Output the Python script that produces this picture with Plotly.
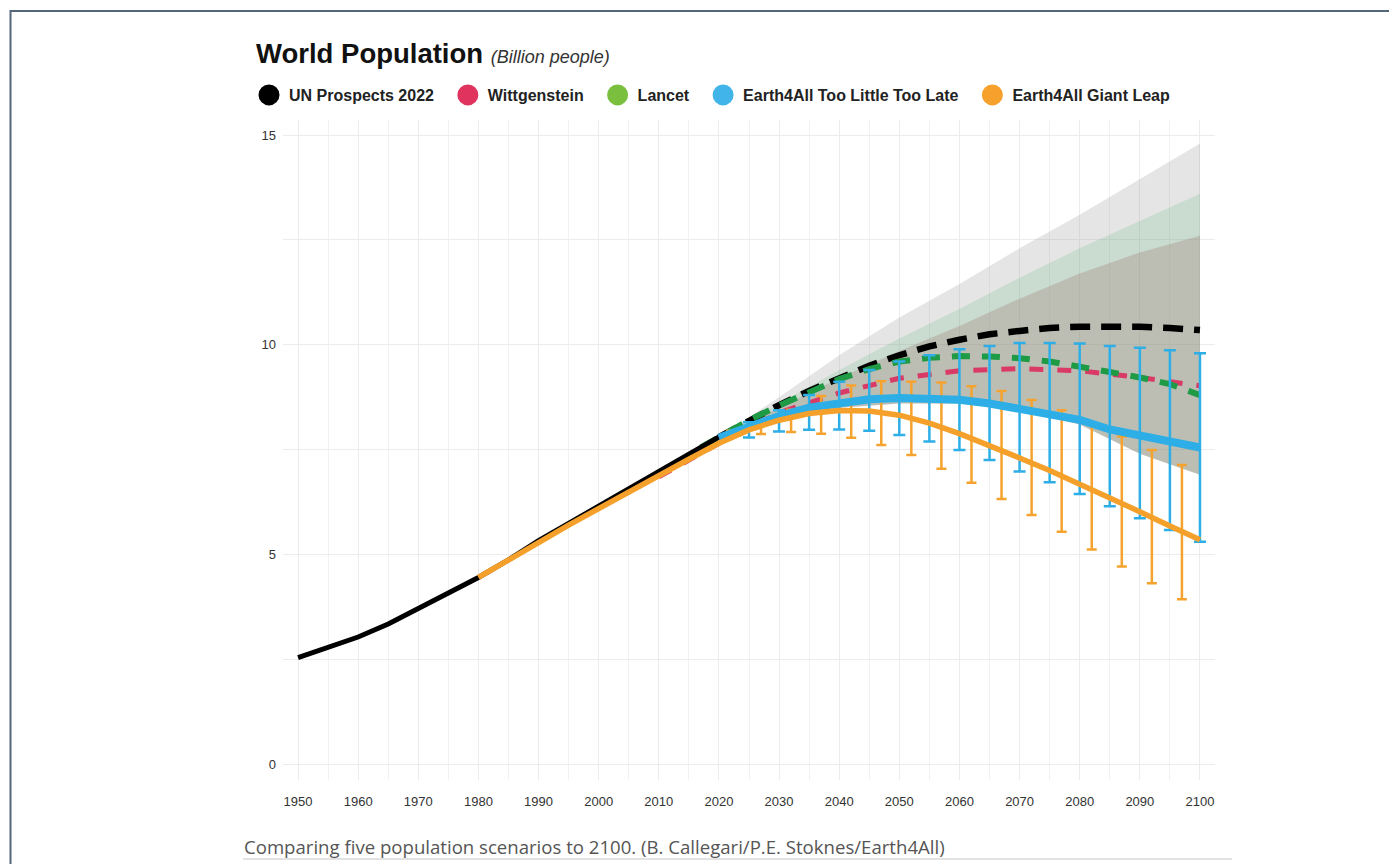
import plotly.graph_objects as go

# ---------------- data (billion people) ----------------
hist_years = [1950, 1955, 1960, 1965, 1970, 1975, 1980, 1985, 1990, 1995, 2000, 2005, 2010, 2015, 2020]
un_hist = [2.54, 2.77, 3.03, 3.34, 3.70, 4.07, 4.45, 4.87, 5.33, 5.74, 6.15, 6.55, 6.96, 7.38, 7.80]

proj_years = [2020, 2025, 2030, 2035, 2040, 2045, 2050, 2055, 2060, 2065, 2070, 2075, 2080, 2085, 2090, 2095, 2100]
un_proj = [7.80, 8.20, 8.56, 8.90, 9.21, 9.50, 9.75, 9.96, 10.12, 10.25, 10.33, 10.40, 10.43, 10.44, 10.43, 10.40, 10.35]

witt_years = [2010, 2020, 2030, 2040, 2050, 2060, 2070, 2080, 2090, 2100]
witt = [6.85, 7.65, 8.38, 8.85, 9.20, 9.38, 9.43, 9.38, 9.22, 9.02]

lancet_years = [2017, 2020, 2025, 2030, 2035, 2040, 2045, 2050, 2055, 2060, 2065, 2070, 2075, 2080, 2085, 2090, 2095, 2100]
lancet = [7.55, 7.80, 8.20, 8.55, 8.87, 9.18, 9.42, 9.60, 9.69, 9.73, 9.72, 9.68, 9.60, 9.46, 9.35, 9.22, 9.06, 8.80]

tltl_years = [2020, 2025, 2030, 2035, 2040, 2045, 2050, 2055, 2060, 2065, 2070, 2075, 2080, 2085, 2090, 2095, 2100]
tltl = [7.78, 8.06, 8.30, 8.50, 8.62, 8.70, 8.73, 8.73, 8.69, 8.60, 8.48, 8.36, 8.21, 7.98, 7.84, 7.70, 7.55]

gl_years = [1980, 1985, 1990, 1995, 2000, 2005, 2010, 2015, 2020, 2025, 2030, 2035, 2040, 2045,
            2050, 2055, 2060, 2065, 2070, 2075, 2080, 2085, 2090, 2095, 2100]
giant_leap = [4.45, 4.85, 5.28, 5.70, 6.10, 6.50, 6.88, 7.27, 7.65, 7.97, 8.20, 8.36, 8.43, 8.42,
              8.32, 8.13, 7.88, 7.60, 7.30, 7.00, 6.68, 6.35, 6.02, 5.68, 5.35]

# uncertainty ranges (error bars)
tltl_err_years = [2025, 2030, 2035, 2040, 2045, 2050, 2055, 2060, 2065, 2070, 2075, 2080, 2085, 2090, 2095, 2100]
tltl_lo = [7.79, 7.93, 7.97, 7.98, 7.95, 7.85, 7.69, 7.49, 7.25, 6.98, 6.72, 6.44, 6.15, 5.86, 5.58, 5.30]
tltl_hi = [8.15, 8.44, 8.80, 9.12, 9.40, 9.60, 9.75, 9.89, 9.97, 10.04, 10.04, 10.03, 9.97, 9.93, 9.87, 9.80]

gl_err_years = [2022, 2027, 2032, 2037, 2042, 2047, 2052, 2057, 2062, 2067, 2072, 2077, 2082, 2087, 2092, 2097]
gl_lo = [7.78, 7.87, 7.92, 7.88, 7.78, 7.61, 7.37, 7.04, 6.71, 6.32, 5.94, 5.54, 5.12, 4.71, 4.31, 3.93]
gl_hi = [7.95, 8.15, 8.45, 8.78, 9.03, 9.13, 9.12, 9.10, 9.01, 8.90, 8.68, 8.44, 8.13, 7.81, 7.49, 7.13]

# shaded projection intervals
band_years = [2020, 2030, 2040, 2050, 2060, 2070, 2080, 2090, 2100]
band_lo = [7.80, 8.20, 8.50, 8.60, 8.60, 8.45, 8.10, 7.40, 6.90]
un_band_hi = [7.80, 8.75, 9.75, 10.65, 11.45, 12.30, 13.10, 13.95, 14.80]
lancet_band_hi = [7.80, 8.60, 9.40, 10.15, 10.85, 11.60, 12.30, 12.95, 13.60]
witt_band_hi = [7.80, 8.50, 9.20, 9.85, 10.45, 11.10, 11.70, 12.20, 12.60]

legend_names = ["UN Prospects 2022", "Wittgenstein", "Lancet", "Earth4All Too Little Too Late", "Earth4All Giant Leap"]
legend_colors = ["#000000", "#e0345f", "#7bbf3f", "#41b4e8", "#f6a12c"]

x_ticks = list(range(1950, 2101, 10))
y_ticks = [0, 5, 10, 15]

# ---------------- figure ----------------
fig = go.Figure()

# bands
for hi, col in [(un_band_hi, "rgba(150,150,150,0.25)"),
                (lancet_band_hi, "rgba(60,165,95,0.16)"),
                (witt_band_hi, "rgba(155,115,110,0.28)")]:
    fig.add_trace(go.Scatter(x=band_years, y=band_lo, mode="lines", line=dict(width=0),
                             showlegend=False, hoverinfo="skip"))
    fig.add_trace(go.Scatter(x=band_years, y=hi, mode="lines", line=dict(width=0),
                             fill="tonexty", fillcolor=col, showlegend=False, hoverinfo="skip"))

# dashed projections
fig.add_trace(go.Scatter(x=witt_years, y=witt, mode="lines", showlegend=False,
                         line=dict(color="#d93a66", width=5, dash="14px,14px")))
fig.add_trace(go.Scatter(x=proj_years, y=un_proj, mode="lines", showlegend=False,
                         line=dict(color="#000000", width=6.5, dash="20px,11px")))
fig.add_trace(go.Scatter(x=lancet_years, y=lancet, mode="lines", showlegend=False,
                         line=dict(color="#1f9a45", width=6, dash="18px,12px")))
# historical UN
fig.add_trace(go.Scatter(x=hist_years, y=un_hist, mode="lines", showlegend=False,
                         line=dict(color="#000000", width=5)))

# error bars
fig.add_trace(go.Scatter(x=gl_err_years, y=gl_lo, mode="markers", showlegend=False,
                         marker=dict(size=1, opacity=0),
                         error_y=dict(type="data", symmetric=False,
                                      array=[h - l for h, l in zip(gl_hi, gl_lo)],
                                      arrayminus=[0] * len(gl_lo),
                                      color="#f5a32e", thickness=2.5, width=5)))
fig.add_trace(go.Scatter(x=tltl_err_years, y=tltl_lo, mode="markers", showlegend=False,
                         marker=dict(size=1, opacity=0),
                         error_y=dict(type="data", symmetric=False,
                                      array=[h - l for h, l in zip(tltl_hi, tltl_lo)],
                                      arrayminus=[0] * len(tltl_lo),
                                      color="#2eaee6", thickness=2.5, width=6)))

# Earth4All lines
fig.add_trace(go.Scatter(x=tltl_years, y=tltl, mode="lines", showlegend=False,
                         line=dict(color="#2eaee6", width=8)))
fig.add_trace(go.Scatter(x=gl_years, y=giant_leap, mode="lines", showlegend=False,
                         line=dict(color="#f5a02a", width=5.5)))

# legend entries (circles)
for name, col in zip(legend_names, legend_colors):
    fig.add_trace(go.Scatter(x=[None], y=[None], mode="markers", name=name + "\u00a0\u00a0",
                             marker=dict(size=16, color=col, line=dict(color=col, width=5))))

L, R, T, B = 283, 174, 120, 84
PW, PH = 1389 - L - R, 864 - T - B

def px(xp):
    return (xp - L) / PW

def py(yp):
    return (864 - B - yp) / PH

fig.update_layout(
    width=1389, height=864,
    margin=dict(l=L, r=R, t=T, b=B, pad=0),
    paper_bgcolor="white", plot_bgcolor="white",
    font=dict(family="Liberation Sans, Arial, sans-serif", color="#444"),
    title=dict(text="<b>World Population</b> <i><span style='font-size:18px;color:#333'>(Billion people)</span></i>",
               font=dict(size=27.5, color="#111"),
               xref="container", yref="container", x=256 / 1389, xanchor="left",
               y=1 - 53 / 864, yanchor="middle"),
    legend=dict(orientation="h", traceorder="normal", x=px(249), xanchor="left", y=py(95), yanchor="middle",
                font=dict(size=16, color="#222", weight="bold"), itemsizing="trace",
                bgcolor="rgba(0,0,0,0)", borderwidth=0),
    xaxis=dict(range=[1947.5, 2102.5], tickmode="array", tickvals=x_ticks,
               showgrid=True, gridcolor="#ececec", gridwidth=1, zeroline=False,
               showline=False, ticks="", ticklabelstandoff=12,
               tickfont=dict(size=13, color="#333"),
               minor=dict(dtick=5, tick0=1950, showgrid=True, gridcolor="#f1f1f1", gridwidth=1)),
    yaxis=dict(range=[-0.38, 15.36], tickmode="array", tickvals=y_ticks,
               showgrid=True, gridcolor="#ececec", gridwidth=1, zeroline=False,
               showline=False, ticks="", ticklabelstandoff=6,
               tickfont=dict(size=13, color="#333"),
               minor=dict(dtick=2.5, tick0=0, showgrid=True, gridcolor="#ececec", gridwidth=1)),
    annotations=[dict(text="Comparing five population scenarios to 2100. (B. Callegari/P.E. Stoknes/Earth4All)",
                      xref="paper", yref="paper", x=px(242), y=py(846), xanchor="left", yanchor="middle",
                      showarrow=False, font=dict(family="Open Sans", size=18.6, color="#555"))],
    shapes=[
        dict(type="line", xref="paper", yref="paper", x0=px(243), x1=px(1232), y0=py(859), y1=py(859),
             line=dict(color="#e3e3e3", width=2)),
        dict(type="rect", xref="paper", yref="paper", x0=px(10.5), x1=px(1400), y0=py(900), y1=py(11),
             line=dict(color="#55657a", width=2), fillcolor="rgba(0,0,0,0)"),
    ],
    showlegend=True,
)

fig.write_html("out.html")
